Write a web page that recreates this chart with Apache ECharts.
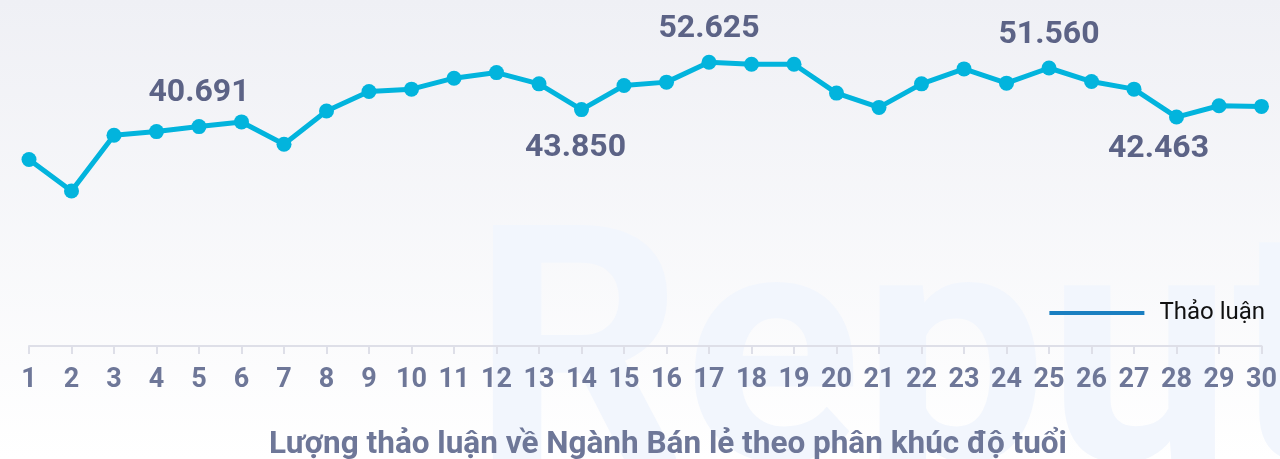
<!DOCTYPE html>
<html>
<head>
<meta charset="utf-8">
<script src="https://cdn.jsdelivr.net/npm/echarts@6/dist/echarts.min.js"></script>
<style>
html,body{margin:0;padding:0;background:#fff;}
#chart{width:1280px;height:459px;}
</style>
</head>
<body>
<div id="chart"></div>
<script>
// ---- data ----
var categories = ['1','2','3','4','5','6','7','8','9','10','11','12','13','14','15','16','17','18','19','20','21','22','23','24','25','26','27','28','29','30'];
var discussionValues = [34600, 28750, 39090, 39770, 40691, 41560, 37430, 43590, 47200, 47640, 49670, 50710, 48620, 43850, 48310, 48940, 52625, 52260, 52260, 46910, 44250, 48620, 51390, 48750, 51560, 49050, 47640, 42463, 44560, 44440];
var seriesName = 'Thảo luận';
var chartTitle = 'Lượng thảo luận về Ngành Bán lẻ theo phân khúc độ tuổi';
var labeledIndices = [4, 13, 16, 24, 27];

// ---- presentation ----
var labelPlacement = {
  4:  {position: 'top', distance: 10, offset: [0, 0]},
  13: {position: 'bottom', distance: 15, offset: [-6, 0]},
  16: {position: 'top', distance: 10, offset: [0, 0]},
  24: {position: 'top', distance: 10, offset: [0, 0]},
  27: {position: 'bottom', distance: 8, offset: [-18, 0]}
};

function fmt(v) {
  return String(v).replace(/\B(?=(\d{3})+(?!\d))/g, '.');
}

var seriesData = discussionValues.map(function (v, i) {
  var item = {value: v};
  if (labeledIndices.indexOf(i) >= 0) {
    var p = labelPlacement[i];
    item.label = {
      show: true,
      position: p.position,
      distance: p.distance,
      offset: p.offset,
      formatter: function (d) { return fmt(d.value); },
      color: '#5c6386',
      fontSize: 32,
      fontWeight: 'bold',
      fontFamily: 'Roboto'
    };
  }
  return item;
});

var chart = echarts.init(document.getElementById('chart'), null, {renderer: 'canvas'});
chart.setOption({
  backgroundColor: {
    type: 'linear', x: 0, y: 0, x2: 0, y2: 1,
    colorStops: [{offset: 0, color: '#eff0f5'}, {offset: 1, color: '#ffffff'}]
  },
  animation: false,
  graphic: [{
    type: 'text',
    left: 472,
    top: 212,
    silent: true,
    z: -10,
    style: {
      text: 'Reput',
      fontSize: 330,
      fontWeight: 'bold',
      fontFamily: 'Roboto',
      fill: '#f2f6fd'
    }
  }],
  title: {
    text: chartTitle,
    left: 264,
    top: 424,
    textStyle: {
      fontFamily: 'Roboto',
      fontSize: 31.5,
      fontWeight: 'bold',
      color: '#6e7798'
    }
  },
  legend: {
    right: 10,
    top: 296,
    itemWidth: 95,
    itemHeight: 4,
    itemGap: 10,
    data: [{name: seriesName, icon: 'rect', itemStyle: {color: '#1a7fc1'}}],
    textStyle: {fontFamily: 'Roboto', fontSize: 24, color: '#111111', padding: [0, 0, 0, 10]}
  },
  grid: {left: 29, right: 16, top: 22.5, bottom: 113, containLabel: false},
  xAxis: {
    type: 'category',
    data: categories,
    boundaryGap: false,
    axisLine: {lineStyle: {color: '#dedfe8', width: 2}},
    axisTick: {show: true, length: 8, lineStyle: {color: '#dedfe8', width: 2}},
    axisLabel: {
      interval: 0,
      margin: 21,
      color: '#6e7798',
      fontFamily: 'Roboto',
      fontSize: 27,
      fontWeight: 'bold'
    }
  },
  yAxis: {
    type: 'value',
    min: 0,
    max: 60000,
    show: false,
    splitLine: {show: false}
  },
  series: [{
    name: seriesName,
    type: 'line',
    data: seriesData,
    symbol: 'circle',
    symbolSize: 15,
    lineStyle: {width: 5, color: '#02b4dd'},
    itemStyle: {color: '#02b4dd'},
    label: {show: false}
  }]
});
</script>
</body>
</html>
